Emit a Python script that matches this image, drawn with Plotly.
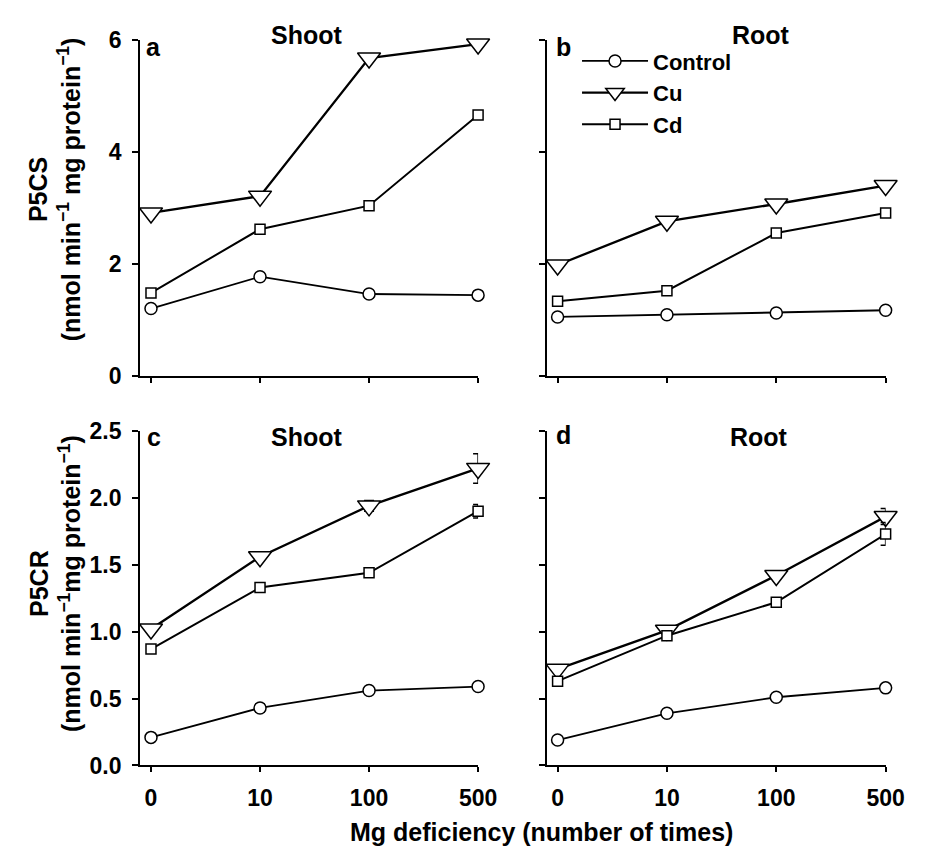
import plotly.graph_objects as go

categories = ["0", "10", "100", "500"]

# Panel a: P5CS shoot
a_control = [1.20, 1.77, 1.46, 1.44]
a_cu = [2.91, 3.21, 5.68, 5.93]
a_cd = [1.48, 2.62, 3.04, 4.66]
# Panel b: P5CS root
b_control = [1.05, 1.09, 1.12, 1.17]
b_cu = [1.98, 2.76, 3.07, 3.40]
b_cd = [1.33, 1.52, 2.55, 2.91]
# Panel c: P5CR shoot
c_control = [0.21, 0.43, 0.56, 0.59]
c_control_err = [0.0, 0.03, 0.02, 0.0]
c_cu = [1.02, 1.56, 1.94, 2.22]
c_cu_err = [0.0, 0.0, 0.04, 0.11]
c_cd = [0.87, 1.33, 1.44, 1.90]
c_cd_err = [0.0, 0.0, 0.0, 0.05]
# Panel d: P5CR root
d_control = [0.19, 0.39, 0.51, 0.58]
d_control_err = [0.0, 0.0, 0.0, 0.0]
d_cu = [0.72, 1.01, 1.42, 1.86]
d_cu_err = [0.0, 0.0, 0.0, 0.06]
d_cd = [0.63, 0.97, 1.22, 1.73]
d_cd_err = [0.0, 0.0, 0.0, 0.085]

series_names = ["Control", "Cu", "Cd"]
W, H = 935, 858
FONT = "Liberation Sans, Arial, sans-serif"

styles = {
    "Control": dict(symbol="circle", size=12, lw=1.8),
    "Cu": dict(symbol="triangle-down", size=20, lw=2.3),
    "Cd": dict(symbol="square", size=10, lw=2.0),
}

fig = go.Figure()

panels = [
    ("x", "y", [a_control, a_cu, a_cd], None),
    ("x2", "y2", [b_control, b_cu, b_cd], None),
    ("x3", "y3", [c_control, c_cu, c_cd], [c_control_err, c_cu_err, c_cd_err]),
    ("x4", "y4", [d_control, d_cu, d_cd], [d_control_err, d_cu_err, d_cd_err]),
]

for pi, (xa, ya, vals, errs) in enumerate(panels):
    for si, name in enumerate(series_names):
        st = styles[name]
        kw = {}
        if errs is not None:
            kw["error_y"] = dict(type="data", array=errs[si], visible=True,
                                 color="black", thickness=1.5, width=5)
        fig.add_trace(go.Scatter(
            x=categories, y=vals[si], xaxis=xa, yaxis=ya,
            mode="lines+markers", name=name, legendgroup=name,
            showlegend=(pi == 0), cliponaxis=False,
            line=dict(color="black", width=st["lw"]),
            marker=dict(symbol=st["symbol"], size=st["size"], color="white",
                        line=dict(color="black", width=1.5)),
            **kw,
        ))

def px_x(p):
    return p / W

def px_y(p):
    return 1 - p / H

xdomL = [px_x(143), px_x(488)]
xdomR = [px_x(558), px_x(904)]
ydomT = [px_y(374), px_y(28)]
ydomB = [px_y(776), px_y(431)]

tickfont = dict(family=FONT, size=23, color="black", weight="bold")

def xaxis(domain, anchor, labels):
    return dict(domain=domain, anchor=anchor, type="category",
                range=[-0.1, 3.0], showline=True, linecolor="black", linewidth=2,
                ticks="outside", ticklen=5, tickwidth=2, tickcolor="black",
                showticklabels=labels, tickfont=tickfont, showgrid=False,
                zeroline=False, ticklabelstandoff=6)

def yaxis(domain, anchor, rng, tickvals, labels, fmt):
    return dict(domain=domain, anchor=anchor, range=rng, tickvals=tickvals,
                tickformat=fmt, showline=True, linecolor="black", linewidth=2,
                ticks="outside", ticklen=6, tickwidth=2, tickcolor="black",
                showticklabels=labels, tickfont=tickfont, showgrid=False,
                zeroline=False, ticklabelstandoff=6)

fig.update_layout(
    width=W, height=H,
    margin=dict(l=0, r=0, t=0, b=0),
    paper_bgcolor="white", plot_bgcolor="white",
    font=dict(family=FONT, color="black"),
    xaxis=xaxis(xdomL, "y", False),
    yaxis=yaxis(ydomT, "x", [0, 6], [0, 2, 4, 6], True, "d"),
    xaxis2=xaxis(xdomR, "y2", False),
    yaxis2=yaxis(ydomT, "x2", [0, 6], [0, 2, 4, 6], False, "d"),
    xaxis3=xaxis(xdomL, "y3", True),
    yaxis3=yaxis(ydomB, "x3", [0, 2.5], [0, 0.5, 1.0, 1.5, 2.0, 2.5], True, ".1f"),
    xaxis4=xaxis(xdomR, "y4", True),
    yaxis4=yaxis(ydomB, "x4", [0, 2.5], [0, 0.5, 1.0, 1.5, 2.0, 2.5], False, ".1f"),
    showlegend=True,
    legend=dict(x=px_x(589), y=px_y(28), xanchor="left", yanchor="top",
                bgcolor="rgba(0,0,0,0)", borderwidth=0, tracegroupgap=0,
                font=dict(family=FONT, size=22, color="black", weight="bold"),
                itemwidth=66),
)

def ann(text, x, y, size=22, angle=0, xanchor="center"):
    fig.add_annotation(text=text, x=px_x(x), y=px_y(y), xref="paper", yref="paper",
                       showarrow=False, textangle=angle, xanchor=xanchor,
                       yanchor="middle",
                       font=dict(family=FONT, size=size, color="black", weight="bold"))

ann("Shoot", 313, 23, 25)
ann("Root", 777, 23, 25)
ann("Shoot", 313, 437, 25)
ann("Root", 775, 437, 25)
ann("a", 147, 35, 25, xanchor="left")
ann("b", 565, 35, 25, xanchor="left")
ann("c", 148, 437, 25, xanchor="left")
ann("d", 565, 435, 25, xanchor="left")
ann("P5CS<br>(nmol min<sup>−1</sup> mg protein<sup>−1</sup>)", 56, 182, 25, angle=-90)
ann("P5CR<br>(nmol min<sup>−1</sup>mg protein<sup>−1</sup>)", 56, 588, 25, angle=-90)
ann("Mg deficiency (number of times)", 553, 845, 25)

fig.write_html("out.html")
